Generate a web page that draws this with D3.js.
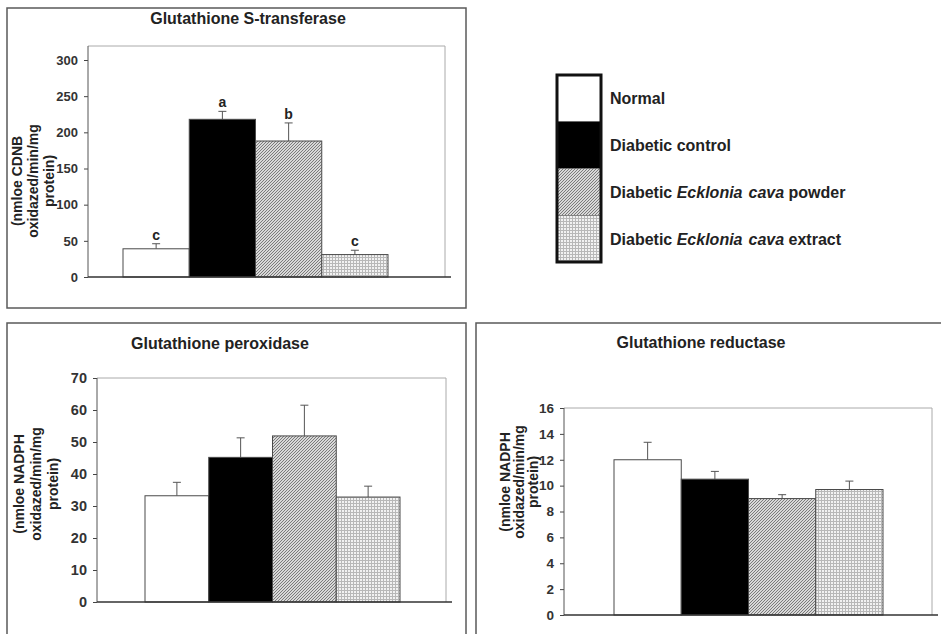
<!DOCTYPE html>
<html lang="en">
<head>
  <meta charset="UTF-8">
  <title>Antioxidant enzymes</title>
  <script src="https://d3js.org/d3.v7.min.js"></script>
  <style>
    body {
      margin: 0;
      background: #fff;
    }
    svg text {
      font-family: "Liberation Sans", Arial, sans-serif;
      font-weight: bold;
      fill: #222;
    }
    .tick text {
      fill: #333;
    }
  </style>
</head>
<body>
  <svg id="chart" width="941" height="634"></svg>

  <script>
    // groups shown in every panel
    const groups = ["Normal", "Diabetic control", "Diabetic Ecklonia cava powder", "Diabetic Ecklonia cava extract"];

    // Glutathione S-transferase (nmol CDNB oxidized/min/mg protein)
    const gstMean = [39, 218, 188, 31];
    const gstErr = [7, 11, 25, 6];
    const gstLetters = ["c", "a", "b", "c"];
    const gstTicks = [0, 50, 100, 150, 200, 250, 300];

    // Glutathione peroxidase (nmol NADPH oxidized/min/mg protein)
    const gpxMean = [33.2, 45.2, 51.9, 32.8];
    const gpxErr = [4.2, 6.1, 9.6, 3.4];
    const gpxTicks = [0, 10, 20, 30, 40, 50, 60, 70];

    // Glutathione reductase (nmol NADPH oxidized/min/mg protein)
    const grMean = [12.0, 10.5, 9.0, 9.7];
    const grErr = [1.35, 0.6, 0.3, 0.65];
    const grTicks = [0, 2, 4, 6, 8, 10, 12, 14, 16];

    const svg = d3.select("#chart");
    const fills = ["#fff", "#000", "url(#hatch)", "url(#dots)"];

    // fill patterns
    const defs = svg.append("defs");
    const hatch = defs.append("pattern")
      .attr("id", "hatch")
      .attr("patternUnits", "userSpaceOnUse")
      .attr("width", 3).attr("height", 3);
    hatch.append("rect").attr("width", 3).attr("height", 3).attr("fill", "#d8d8d8");
    hatch.append("path")
      .attr("d", "M-1,1 l2,-2 M0,3 l3,-3 M2,4 l2,-2")
      .attr("stroke", "#7a7a7a")
      .attr("stroke-width", 1);

    const dots = defs.append("pattern")
      .attr("id", "dots")
      .attr("patternUnits", "userSpaceOnUse")
      .attr("width", 3).attr("height", 3);
    dots.append("rect").attr("width", 3).attr("height", 3).attr("fill", "#b8b8b8");
    dots.append("rect").attr("width", 2).attr("height", 2).attr("fill", "#f2f2f2");

    function drawPanel(p) {
      const g = svg.append("g");

      // panel frame
      g.append("rect")
        .attr("x", p.frame[0]).attr("y", p.frame[1])
        .attr("width", p.frame[2]).attr("height", p.frame[3])
        .attr("fill", "none")
        .attr("stroke", "#5a5a5a")
        .attr("stroke-width", 1.5);

      g.append("text")
        .attr("x", p.titleX).attr("y", p.titleY)
        .attr("text-anchor", "middle")
        .style("font-size", "16px")
        .text(p.title);

      const y = d3.scaleLinear()
        .domain([0, d3.max(p.ticks)])
        .range([p.plot.bottom, p.topTickY]);

      const x = d3.scaleBand()
        .domain(groups)
        .range(p.barRange)
        .padding(0);

      // plot box (thin grey top & right)
      g.append("path")
        .attr("d", `M${p.plot.left},${p.plot.top}H${p.plot.right}V${p.plot.bottom}`)
        .attr("fill", "none")
        .attr("stroke", "#aaa")
        .attr("stroke-width", 1);

      const axis = g.append("g")
        .attr("transform", `translate(${p.plot.left},0)`)
        .call(d3.axisLeft(y).tickValues(p.ticks).tickSize(4).tickPadding(6));
      axis.select(".domain").remove();
      axis.selectAll(".tick line").attr("stroke", "#444");
      axis.selectAll(".tick text").style("font-size", p.tickFont + "px");

      g.append("line")
        .attr("x1", p.plot.left).attr("x2", p.plot.left)
        .attr("y1", p.plot.top).attr("y2", p.plot.bottom)
        .attr("stroke", "#555");

      const rows = groups.map((d, i) => ({
        group: d, mean: p.mean[i], err: p.err[i], fill: fills[i],
        letter: p.letters ? p.letters[i] : null
      }));

      // error bars (upper only)
      const eb = g.selectAll("g.err").data(rows).enter().append("g").attr("class", "err");
      eb.append("line")
        .attr("x1", d => x(d.group) + x.bandwidth() / 2)
        .attr("x2", d => x(d.group) + x.bandwidth() / 2)
        .attr("y1", d => y(d.mean))
        .attr("y2", d => y(d.mean + d.err))
        .attr("stroke", "#555");
      eb.append("line")
        .attr("x1", d => x(d.group) + x.bandwidth() / 2 - 4)
        .attr("x2", d => x(d.group) + x.bandwidth() / 2 + 4)
        .attr("y1", d => y(d.mean + d.err))
        .attr("y2", d => y(d.mean + d.err))
        .attr("stroke", "#555");

      g.selectAll("rect.bar").data(rows).enter().append("rect")
        .attr("class", "bar")
        .attr("x", d => x(d.group))
        .attr("y", d => y(d.mean))
        .attr("width", x.bandwidth())
        .attr("height", d => y(0) - y(d.mean))
        .attr("fill", d => d.fill)
        .attr("stroke", "#4a4a4a")
        .attr("stroke-width", 1);

      if (p.letters) {
        g.selectAll("text.letter").data(rows).enter().append("text")
          .attr("class", "letter")
          .attr("x", d => x(d.group) + x.bandwidth() / 2)
          .attr("y", d => y(d.mean + d.err) - 4)
          .attr("text-anchor", "middle")
          .style("font-size", "14px")
          .text(d => d.letter);
      }

      // x axis
      g.append("line")
        .attr("x1", p.plot.left).attr("x2", p.plot.right + 6)
        .attr("y1", y(0)).attr("y2", y(0))
        .attr("stroke", "#333")
        .attr("stroke-width", 1.5);

      // y label, three rotated lines
      const lab = g.append("text")
        .attr("transform", `translate(${p.labelX},${p.labelY}) rotate(-90)`)
        .attr("text-anchor", "middle")
        .style("font-size", "14px");
      p.label.forEach((t, i) => {
        lab.append("tspan")
          .attr("x", 0)
          .attr("y", i * p.labelGap)
          .text(t);
      });
    }

    drawPanel({
      title: "Glutathione S-transferase", titleX: 248, titleY: 24,
      frame: [7, 8, 459, 300],
      plot: { left: 88, right: 445, top: 46, bottom: 277 },
      topTickY: 60, barRange: [123, 388], tickFont: 13,
      mean: gstMean, err: gstErr, letters: gstLetters, ticks: gstTicks,
      label: ["(nmloe CDNB", "oxidazed/min/mg", "protein)"],
      labelX: 22, labelY: 181, labelGap: 16
    });

    drawPanel({
      title: "Glutathione peroxidase", titleX: 220, titleY: 349,
      frame: [7, 323, 459, 330],
      plot: { left: 97, right: 446, top: 378, bottom: 602 },
      topTickY: 378, barRange: [145, 400], tickFont: 14.5,
      mean: gpxMean, err: gpxErr, ticks: gpxTicks,
      label: ["(nmloe NADPH", "oxidazed/min/mg", "protein)"],
      labelX: 24, labelY: 484, labelGap: 17
    });

    drawPanel({
      title: "Glutathione reductase", titleX: 701, titleY: 348,
      frame: [476, 323, 480, 330],
      plot: { left: 564, right: 932, top: 408, bottom: 615 },
      topTickY: 408, barRange: [614, 883], tickFont: 13.5,
      mean: grMean, err: grErr, ticks: grTicks,
      label: ["(nmloe NADPH", "oxidazed/min/mg", "protein)"],
      labelX: 510, labelY: 482, labelGap: 14
    });

    // legend
    const ly = d3.scaleBand().domain(groups).range([75, 262]);
    const legend = svg.append("g");
    legend.selectAll("rect.sw").data(groups).enter().append("rect")
      .attr("class", "sw")
      .attr("x", 557)
      .attr("y", d => ly(d))
      .attr("width", 44)
      .attr("height", ly.bandwidth())
      .attr("fill", (d, i) => fills[i])
      .attr("stroke", "#555")
      .attr("stroke-width", 0.5);
    legend.append("rect")
      .attr("x", 557).attr("y", 75)
      .attr("width", 44).attr("height", 187)
      .attr("fill", "none")
      .attr("stroke", "#111")
      .attr("stroke-width", 3);

    const lt = legend.selectAll("text.lt").data(groups).enter().append("text")
      .attr("class", "lt")
      .attr("x", 610)
      .attr("y", d => ly(d) + ly.bandwidth() / 2 + 6)
      .style("font-size", "16px");
    lt.each(function (d) {
      const t = d3.select(this);
      const m = d.match(/^(Diabetic )(Ecklonia)( cava)( .*)$/);
      if (!m) { t.text(d); return; }
      t.append("tspan").text("Diabetic ");
      t.append("tspan").style("font-style", "italic").text("Ecklonia");
      t.append("tspan").attr("dx", 6).style("font-style", "italic").text("cava");
      t.append("tspan").text(m[4]);
    });
  </script>
</body>
</html>
